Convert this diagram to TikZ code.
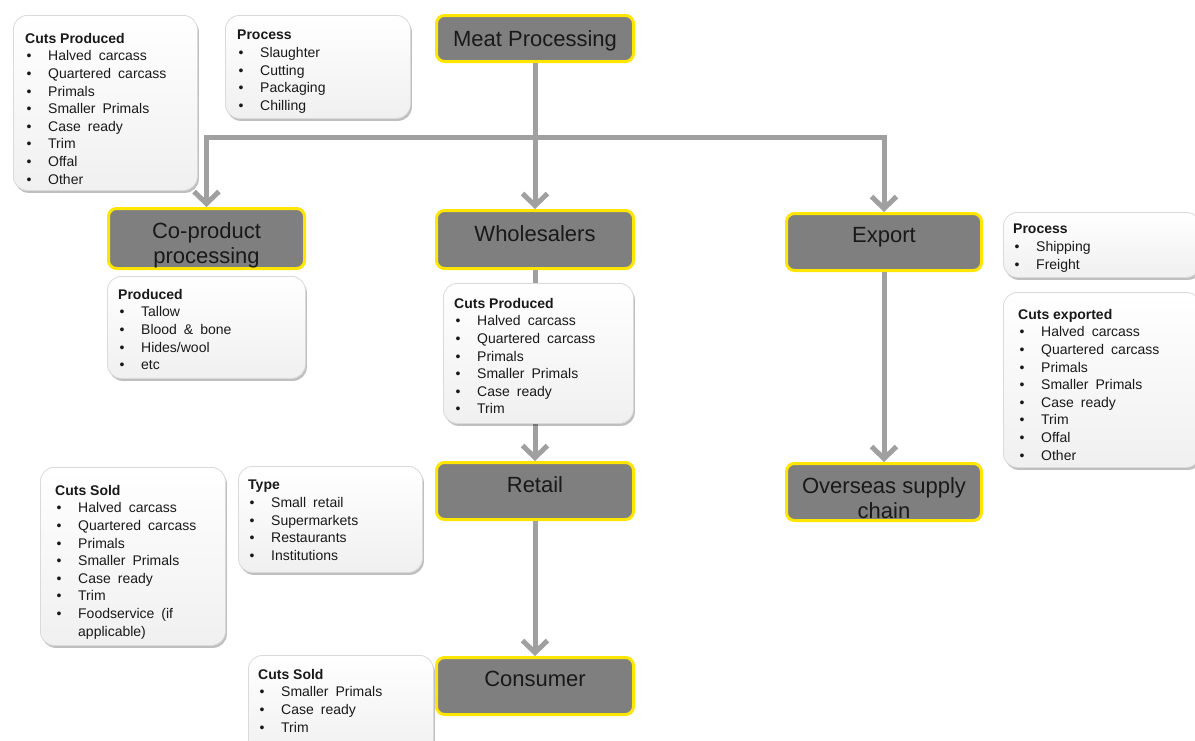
\documentclass[tikz,border=0pt]{standalone}
\usepackage{fontspec}
\setmainfont{Liberation Sans}
\usetikzlibrary{arrows.meta,shadows}
\definecolor{boxgray}{HTML}{7F7F7F}
\definecolor{ylw}{HTML}{FFE600}
\definecolor{conngray}{HTML}{A0A0A0}
\definecolor{infoedge}{HTML}{DADADA}
\definecolor{infobot}{HTML}{F0F0F0}
\newcommand{\itm}[1]{\makebox[23pt][l]{\hspace{1.5pt}•}#1}
\newcommand{\hdr}[1]{{\spaceskip=0pt\relax\textbf{#1}}}
\newcommand{\widesp}{\spaceskip=7pt plus 1pt\relax}
\tikzset{
  mainbox/.style={draw=ylw, line width=3pt, fill=boxgray, rounded corners=8pt, inner sep=0pt},
  maintxt/.style={anchor=north, inner sep=0pt, align=center, font=\fontsize{22pt}{25.5pt}\selectfont, text=black!90},
  conn/.style={draw=conngray, line width=5pt, -{Straight Barb[length=12pt,width=25pt]}},
  infobox/.style={anchor=north west, draw=infoedge, line width=0.8pt, rounded corners=14pt,
     top color=white, bottom color=infobot, inner sep=0pt,
     drop shadow={shadow xshift=1.5pt, shadow yshift=-2.5pt, opacity=0.25, fill=black}},
  infotxt/.style={anchor=north west, inner sep=0pt, align=left, font=\fontsize{14pt}{17.6pt}\selectfont\widesp, text=black!90}
}
\begin{document}
\begin{tikzpicture}[x=1pt,y=-1pt]
\useasboundingbox (0,0) rectangle (1195,740);
\fill[white] (0,0) rectangle (1195,740);

% main boxes
\node[mainbox, minimum width=197pt, minimum height=46pt] (mp) at (535,38.5) {};
\node[mainbox, minimum width=197pt, minimum height=58pt] (ws) at (535,239.5) {};
\node[mainbox, minimum width=196pt, minimum height=60pt] (cp) at (206.5,238.5) {};
\node[mainbox, minimum width=195pt, minimum height=57pt] (ex) at (884,242) {};
\node[mainbox, minimum width=197pt, minimum height=57pt] (rt) at (535,491) {};
\node[mainbox, minimum width=197pt, minimum height=57pt] (cs) at (535,686) {};
\node[mainbox, minimum width=195pt, minimum height=57pt] (os) at (884,492) {};

\node[maintxt] (mpt) at (535,30) {Meat Processing};
\node[maintxt] (wst) at (535,225) {Wholesalers};
\node[maintxt] (cpt) at (206.5,222) {Co-product\\processing};
\node[maintxt] (ext) at (884,227) {Export};
\node[maintxt] (rtt) at (535,476) {Retail};
\node[maintxt] (cst) at (535,671) {Consumer};
\node[maintxt] (ost) at (884,477) {Overseas supply\\chain};

% connectors
\coordinate (j) at (535,137);
\draw[conn] (mp.south) -- (ws.north);
\draw[conn] (j) -| (cp.north);
\draw[conn] (j) -| (ex.north);
\draw[conn] (ws.south) -- (rt.north);
\draw[conn] (rt.south) -- (cs.north);
\draw[conn] (ex.south) -- (os.north);

% info boxes
\node[infobox, minimum width=184pt, minimum height=175pt] (i1) at (13,15) {};
\node[infobox, minimum width=185pt, minimum height=103pt] (i2) at (225,15) {};
\node[infobox, minimum width=198pt, minimum height=102pt] (i3) at (107,276) {};
\node[infobox, minimum width=190pt, minimum height=140pt] (i4) at (443,283) {};
\node[infobox, minimum width=197pt, minimum height=65pt] (i5) at (1003,212) {};
\node[infobox, minimum width=197pt, minimum height=175pt] (i6) at (1003,292) {};
\node[infobox, minimum width=185pt, minimum height=178pt] (i7) at (40,467) {};
\node[infobox, minimum width=184pt, minimum height=106pt] (i8) at (238,466) {};
\node[infobox, minimum width=185pt, minimum height=100pt] (i9) at (248,655) {};

\node[infotxt] (t1) at (25,33) {\hdr{Cuts Produced}\\\itm{Halved carcass}\\\itm{Quartered carcass}\\\itm{Primals}\\\itm{Smaller Primals}\\\itm{Case ready}\\\itm{Trim}\\\itm{Offal}\\\itm{Other}};
\node[infotxt] (t2) at (237,30) {\hdr{Process}\\\itm{Slaughter}\\\itm{Cutting}\\\itm{Packaging}\\\itm{Chilling}};
\node[infotxt] (t3) at (118,289) {\hdr{Produced}\\\itm{Tallow}\\\itm{Blood \& bone}\\\itm{Hides/wool}\\\itm{etc}};
\node[infotxt] (t4) at (454,298) {\hdr{Cuts Produced}\\\itm{Halved carcass}\\\itm{Quartered carcass}\\\itm{Primals}\\\itm{Smaller Primals}\\\itm{Case ready}\\\itm{Trim}};
\node[infotxt] (t5) at (1013,224) {\hdr{Process}\\\itm{Shipping}\\\itm{Freight}};
\node[infotxt] (t6) at (1018,309) {\hdr{Cuts exported}\\\itm{Halved carcass}\\\itm{Quartered carcass}\\\itm{Primals}\\\itm{Smaller Primals}\\\itm{Case ready}\\\itm{Trim}\\\itm{Offal}\\\itm{Other}};
\node[infotxt] (t7) at (55,485) {\hdr{Cuts Sold}\\\itm{Halved carcass}\\\itm{Quartered carcass}\\\itm{Primals}\\\itm{Smaller Primals}\\\itm{Case ready}\\\itm{Trim}\\\itm{Foodservice (if}\\\makebox[23pt]{}applicable)};
\node[infotxt] (t8) at (248,480) {\hdr{Type}\\\itm{Small retail}\\\itm{Supermarkets}\\\itm{Restaurants}\\\itm{Institutions}};
\node[infotxt] (t9) at (258,669) {\hdr{Cuts Sold}\\\itm{Smaller Primals}\\\itm{Case ready}\\\itm{Trim}};
\end{tikzpicture}
\end{document}
